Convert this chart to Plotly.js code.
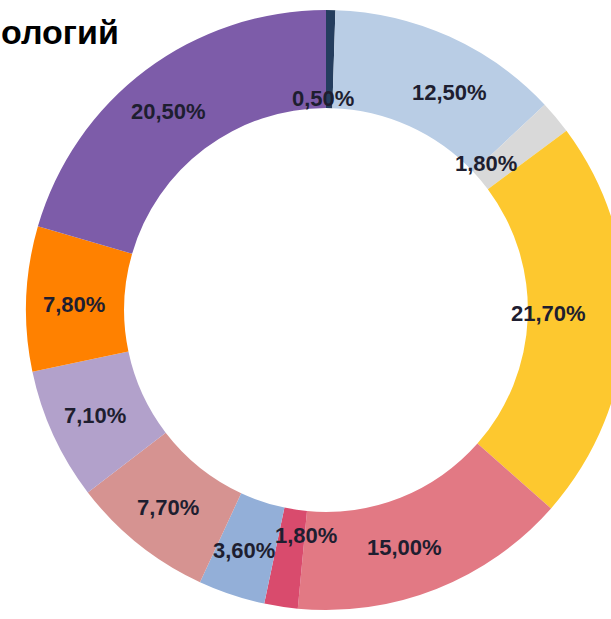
<!DOCTYPE html>
<html><head><meta charset="utf-8">
<script src="https://cdn.plot.ly/plotly-3.0.1.min.js"></script>
<style>html,body{margin:0;padding:0;overflow:hidden;background:#fff;width:611px;height:619px}</style>
</head><body><div id="chart"></div>
<script>
// Data (clockwise from 12 o'clock)
const categories = ['Категория 1','Категория 2','Категория 3','Категория 4','Категория 5','Категория 6','Категория 7','Категория 8','Категория 9','Категория 10','Категория 11'];
const values = [0.5, 12.5, 1.8, 21.7, 15.0, 1.8, 3.6, 7.7, 7.1, 7.8, 20.5];
const valueLabels = ['0,50%','12,50%','1,80%','21,70%','15,00%','1,80%','3,60%','7,70%','7,10%','7,80%','20,50%'];
const titleText = 'ологий';

// Styles
const colors = ['#243d5e','#b9cde5','#d9d9d9','#fdc82f','#e27984','#d94b6d','#93afd8','#d69391','#b2a1cb','#ff8100','#7d5ca9'];
// label nudges: [radial px offset from ring middle, angle offset deg]
const labelShift = [[-39,-1.7],[-1,5.4],[-34,-2.6],[-28,-1.5],[-1,3.2],[-25,-3.6],[3,0.5],[2,0],[3,0],[1,-1],[2,-1.5]];

const W = 640, H = 619, ml = 26, mr = 14, mt = 10, mb = 9;
const plotW = W - ml - mr, plotH = H - mt - mb;
const hole = 0.673;
const R = Math.min(plotW, plotH) / 2;
const midR = R * (1 + hole) / 2;
const total = values.reduce((a, b) => a + b, 0);

const annotations = [];
let cum = 0;
values.forEach((v, i) => {
  const f = (cum + v / 2) / total;
  cum += v;
  const th = (f * 360 + labelShift[i][1]) * Math.PI / 180;
  const r = midR + labelShift[i][0];
  annotations.push({
    xref: 'paper', yref: 'paper',
    x: 0.5 + r * Math.sin(th) / plotW,
    y: 0.5 + r * Math.cos(th) / plotH,
    xanchor: 'center', yanchor: 'middle',
    text: valueLabels[i], showarrow: false,
    font: {family: 'Liberation Sans, Arial, sans-serif', size: 22, weight: 'bold', color: '#1e1e30'}
  });
});

annotations.push({
  xref: 'paper', yref: 'paper',
  x: (121 - ml) / plotW, y: 1 - (32 - mt) / plotH,
  xanchor: 'right', yanchor: 'middle',
  text: titleText, showarrow: false,
  font: {family: 'Liberation Sans, Arial, sans-serif', size: 34, weight: 'bold', color: '#000000'}
});

const trace = {
  type: 'pie',
  labels: categories,
  values: values,
  hole: hole,
  sort: false,
  direction: 'clockwise',
  rotation: 0,
  textinfo: 'none',
  hoverinfo: 'label+percent',
  marker: {colors: colors, line: {width: 0}},
  domain: {x: [0, 1], y: [0, 1]}
};

Plotly.newPlot('chart', [trace], {
  width: W, height: H,
  margin: {l: ml, r: mr, t: mt, b: mb},
  showlegend: false,
  paper_bgcolor: '#ffffff',
  annotations: annotations
}, {displayModeBar: false, staticPlot: true});
</script>
</body></html>
